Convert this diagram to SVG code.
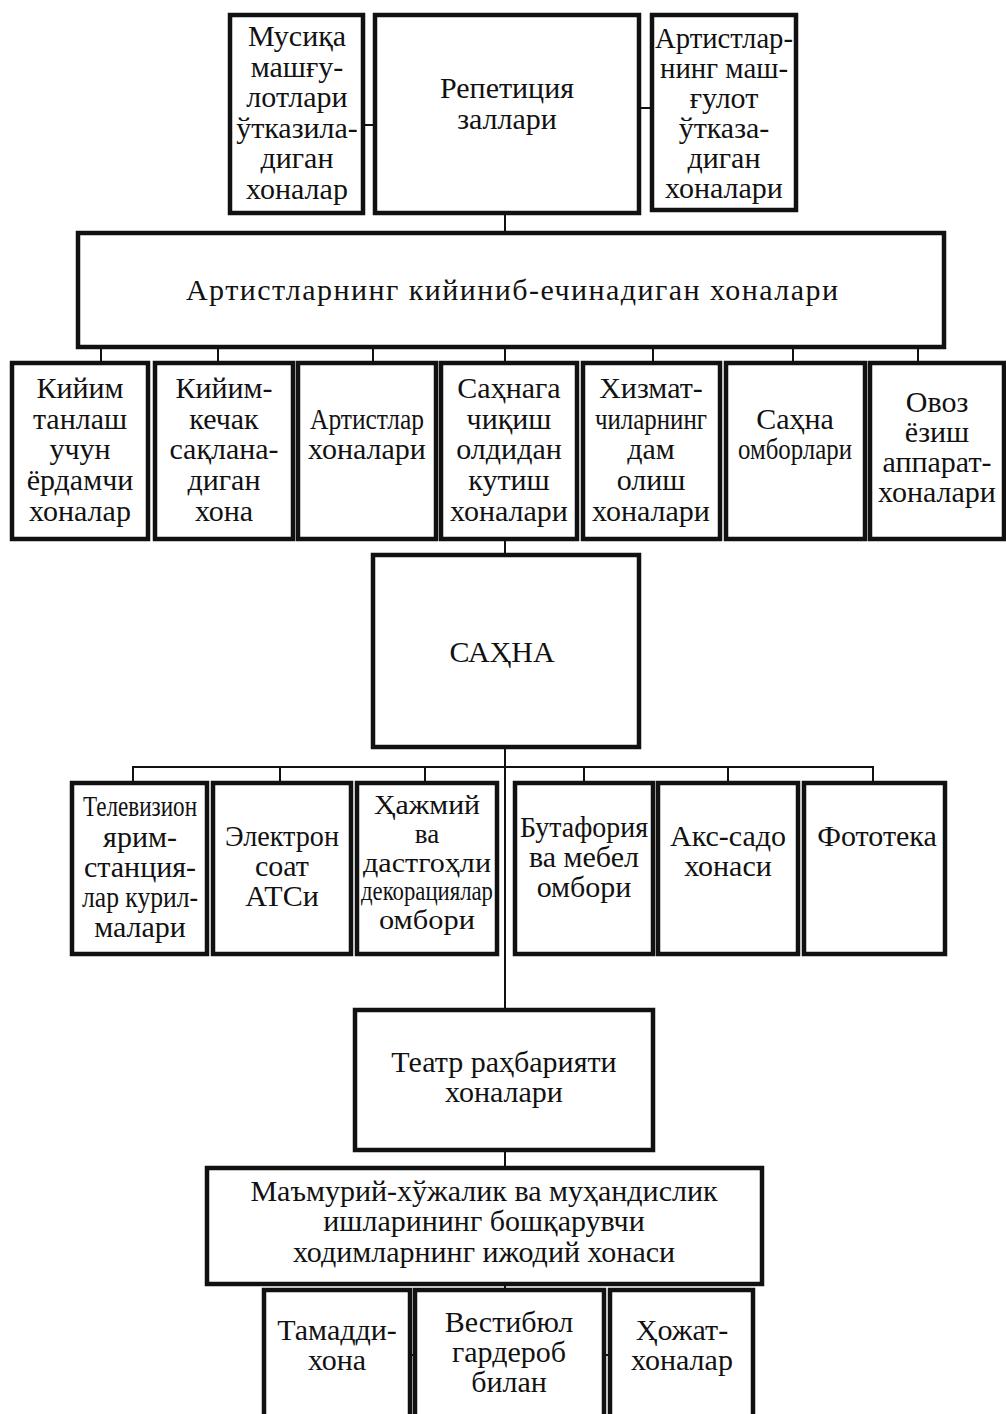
<svg xmlns="http://www.w3.org/2000/svg" width="1006" height="1414" viewBox="0 0 1006 1414">
<style>
.box{fill:#fff;stroke:#111;stroke-width:4.5}
.ln{fill:none;stroke:#111;stroke-width:2}
text{font-family:"Liberation Serif","Times New Roman",serif;font-size:30px;fill:#111;text-anchor:middle}
.sm{font-size:27px}
</style>
<rect width="1006" height="1414" fill="#fff"/>
<g id="connectors">
<line class="ln" x1="363" y1="125" x2="375" y2="125"/>
<line class="ln" x1="639" y1="108" x2="652" y2="108"/>
<line class="ln" x1="505" y1="213" x2="505" y2="233"/>
<line class="ln" x1="101" y1="347" x2="101" y2="363"/>
<line class="ln" x1="218" y1="347" x2="218" y2="363"/>
<line class="ln" x1="373" y1="347" x2="373" y2="363"/>
<line class="ln" x1="505" y1="347" x2="505" y2="363"/>
<line class="ln" x1="653" y1="347" x2="653" y2="363"/>
<line class="ln" x1="793" y1="347" x2="793" y2="363"/>
<line class="ln" x1="918" y1="347" x2="918" y2="363"/>
<line class="ln" x1="505" y1="539" x2="505" y2="555"/>
<line class="ln" x1="505" y1="747" x2="505" y2="1010"/>
<polyline class="ln" points="133,783 133,767 873,767 873,783"/>
<line class="ln" x1="280" y1="767" x2="280" y2="783"/>
<line class="ln" x1="425" y1="767" x2="425" y2="783"/>
<line class="ln" x1="584" y1="767" x2="584" y2="783"/>
<line class="ln" x1="728" y1="767" x2="728" y2="783"/>
<line class="ln" x1="505" y1="1150" x2="505" y2="1168"/>
<line class="ln" x1="505" y1="1284" x2="505" y2="1290"/>
<line class="ln" x1="410" y1="1355" x2="415" y2="1355" stroke-width="5"/>
<line class="ln" x1="604" y1="1355" x2="610" y2="1355" stroke-width="5"/>
</g>
<g id="n-musiqa"><rect class="box" x="230" y="15" width="133" height="198"/>
<text x="297" y="46">Мусиқа</text><text x="297" y="77">машғу-</text><text x="297" y="107">лотлари</text><text x="297" y="138">ўтказила-</text><text x="297" y="168">диган</text><text x="297" y="199">хоналар</text></g>
<g id="n-repetitsiya"><rect class="box" x="375" y="15" width="264" height="198"/>
<text x="507" y="98">Репетиция</text><text x="507" y="129">заллари</text></g>
<g id="n-artist-mashgulot"><rect class="box" x="652" y="15" width="144" height="195"/>
<text x="724" y="48" textLength="138" lengthAdjust="spacingAndGlyphs">Артистлар-</text><text x="724" y="78" textLength="128" lengthAdjust="spacingAndGlyphs">нинг маш-</text><text x="724" y="108">ғулот</text><text x="724" y="138">ўтказа-</text><text x="724" y="168">диган</text><text x="724" y="198">хоналари</text></g>
<g id="n-kiyinib"><rect class="box" x="78" y="233" width="866" height="114"/>
<text x="512" y="300" textLength="652" lengthAdjust="spacing">Артистларнинг кийиниб-ечинадиган хоналари</text></g>
<g id="n-kiyim-tanlash"><rect class="box" x="12" y="363" width="136" height="176"/>
<text x="80" y="398">Кийим</text><text x="80" y="429">танлаш</text><text x="80" y="459">учун</text><text x="80" y="490">ёрдамчи</text><text x="80" y="521">хоналар</text></g>
<g id="n-kiyim-kechak"><rect class="box" x="155" y="363" width="138" height="176"/>
<text x="224" y="398">Кийим-</text><text x="224" y="429">кечак</text><text x="224" y="459">сақлана-</text><text x="224" y="490">диган</text><text x="224" y="521">хона</text></g>
<g id="n-artistlar-xonalari"><rect class="box" x="298" y="363" width="138" height="176"/>
<text x="367" y="429" textLength="114" lengthAdjust="spacingAndGlyphs">Артистлар</text><text x="367" y="459">хоналари</text></g>
<g id="n-sahnaga"><rect class="box" x="441" y="363" width="136" height="176"/>
<text x="509" y="398">Саҳнага</text><text x="509" y="429">чиқиш</text><text x="509" y="459">олдидан</text><text x="509" y="490">кутиш</text><text x="509" y="521">хоналари</text></g>
<g id="n-xizmatchi"><rect class="box" x="583" y="363" width="137" height="176"/>
<text x="651" y="398">Хизмат-</text><text x="651" y="429" textLength="112" lengthAdjust="spacingAndGlyphs">чиларнинг</text><text x="651" y="459">дам</text><text x="651" y="490">олиш</text><text x="651" y="521">хоналари</text></g>
<g id="n-sahna-omborlari"><rect class="box" x="726" y="363" width="139" height="176"/>
<text x="795" y="429">Саҳна</text><text x="795" y="459" textLength="114" lengthAdjust="spacingAndGlyphs">омборлари</text></g>
<g id="n-ovoz"><rect class="box" x="870" y="363" width="134" height="176"/>
<text x="937" y="412">Овоз</text><text x="937" y="442">ёзиш</text><text x="937" y="472">аппарат-</text><text x="937" y="502">хоналари</text></g>
<g id="n-sahna"><rect class="box" x="373" y="555" width="266" height="192"/>
<text x="502" y="662">САҲНА</text></g>
<g id="n-televizion"><rect class="box" x="72" y="783" width="135" height="171"/>
<text x="140" y="816" textLength="114" lengthAdjust="spacingAndGlyphs">Телевизион</text><text x="140" y="847">ярим-</text><text x="140" y="877">станция-</text><text x="140" y="907" textLength="116" lengthAdjust="spacingAndGlyphs">лар курил-</text><text x="140" y="937">малари</text></g>
<g id="n-elektron"><rect class="box" x="213" y="783" width="138" height="171"/>
<text x="282" y="846" textLength="114" lengthAdjust="spacingAndGlyphs">Электрон</text><text x="282" y="876">соат</text><text x="282" y="906">АТСи</text></g>
<g id="n-hajmiy"><rect class="box" x="357" y="783" width="140" height="171"/>
<text class="sm" x="427" y="814" textLength="106" lengthAdjust="spacingAndGlyphs">Ҳажмий</text><text class="sm" x="427" y="843">ва</text><text class="sm" x="427" y="872" textLength="128" lengthAdjust="spacingAndGlyphs">дастгоҳли</text><text class="sm" x="427" y="900" textLength="132" lengthAdjust="spacingAndGlyphs">декорациялар</text><text class="sm" x="427" y="929" textLength="96" lengthAdjust="spacingAndGlyphs">омбори</text></g>
<g id="n-butaforiya"><rect class="box" x="515" y="783" width="138" height="171"/>
<text x="584" y="837" textLength="128" lengthAdjust="spacingAndGlyphs">Бутафория</text><text x="584" y="867">ва мебел</text><text x="584" y="897">омбори</text></g>
<g id="n-aks-sado"><rect class="box" x="658" y="783" width="140" height="171"/>
<text x="728" y="846">Акс-садо</text><text x="728" y="876">хонаси</text></g>
<g id="n-fototeka"><rect class="box" x="804" y="783" width="141" height="171"/>
<text x="877" y="846">Фототека</text></g>
<g id="n-teatr"><rect class="box" x="355" y="1010" width="298" height="140"/>
<text x="504" y="1072">Театр  раҳбарияти</text><text x="504" y="1102">хоналари</text></g>
<g id="n-mamuriy"><rect class="box" x="207" y="1168" width="555" height="116"/>
<text x="484" y="1201">Маъмурий-хўжалик ва муҳандислик</text><text x="484" y="1231">ишларининг  бошқарувчи</text><text x="484" y="1262">ходимларнинг ижодий хонаси</text></g>
<g id="n-tamaddi"><rect class="box" x="264" y="1290" width="146" height="140"/>
<text x="337" y="1340">Тамадди-</text><text x="337" y="1370">хона</text></g>
<g id="n-vestibyul"><rect class="box" x="415" y="1290" width="189" height="140"/>
<text x="509" y="1332">Вестибюл</text><text x="509" y="1362">гардероб</text><text x="509" y="1392">билан</text></g>
<g id="n-hojat"><rect class="box" x="610" y="1290" width="143" height="140"/>
<text x="682" y="1340">Ҳожат-</text><text x="682" y="1370">хоналар</text></g>
</svg>
